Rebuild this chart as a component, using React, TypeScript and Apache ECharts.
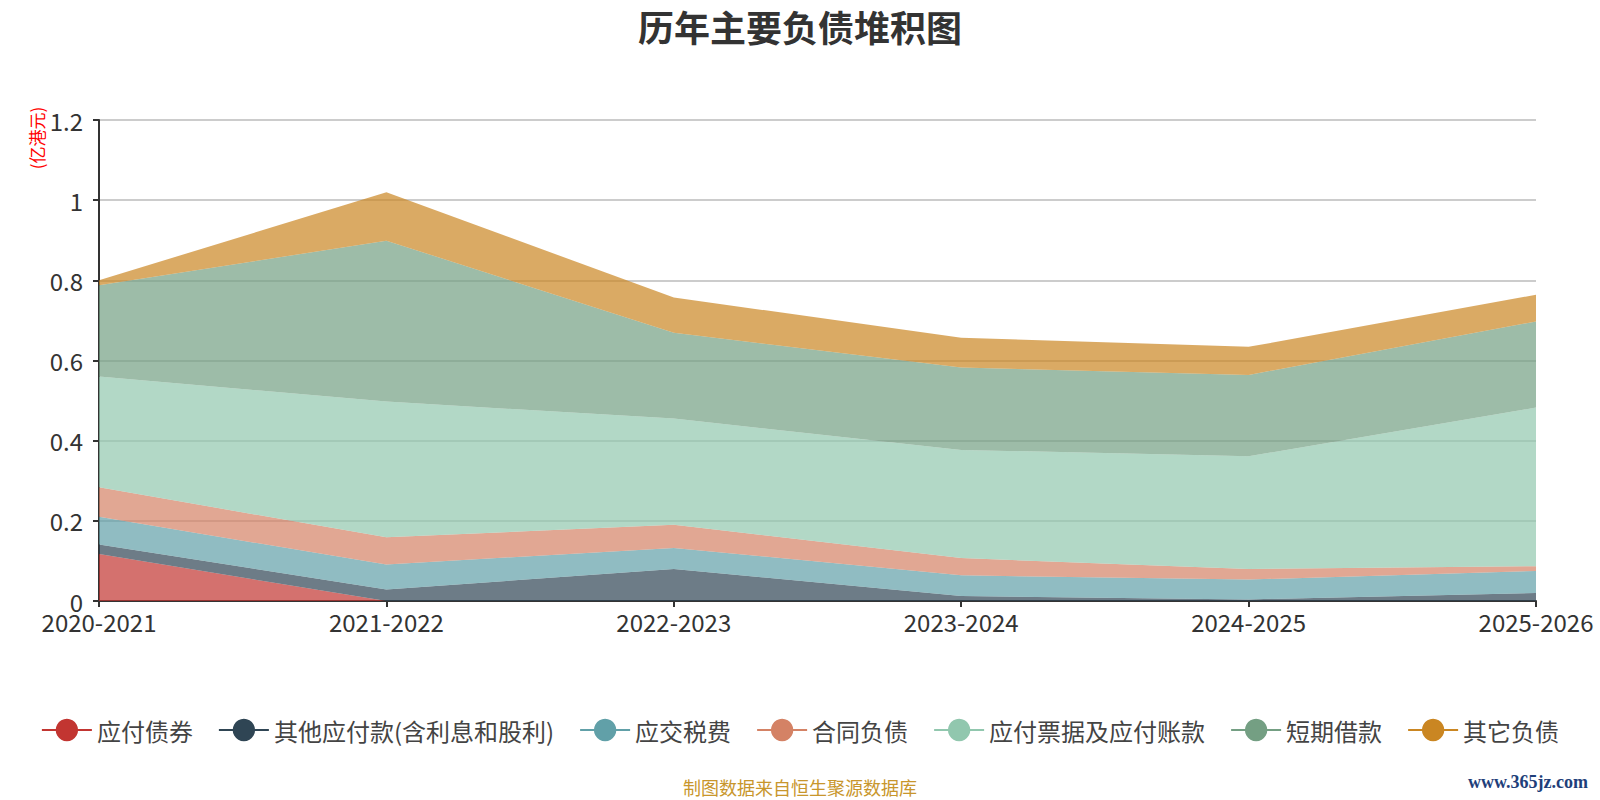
import { useEffect, useRef } from 'react'
import * as echarts from 'echarts'

const years = ['2020-2021', '2021-2022', '2022-2023', '2023-2024', '2024-2025', '2025-2026']

const bonds = [0.117, 0, 0, 0, 0, 0]
const otherPayables = [0.024, 0.0285, 0.08, 0.0125, 0.004, 0.02]
const taxes = [0.069, 0.0625, 0.0525, 0.0515, 0.0495, 0.055]
const contract = [0.0735, 0.068, 0.0575, 0.043, 0.0265, 0.0118]
const notesPayable = [0.2765, 0.3385, 0.265, 0.27, 0.281, 0.3957]
const shortLoans = [0.2275, 0.4015, 0.214, 0.2055, 0.203, 0.215]
const otherLiab = [0.0125, 0.121, 0.088, 0.0745, 0.07, 0.0665]

const seriesNames = ['应付债券', '其他应付款(含利息和股利)', '应交税费', '合同负债', '应付票据及应付账款', '短期借款', '其它负债']
const seriesData = [bonds, otherPayables, taxes, contract, notesPayable, shortLoans, otherLiab]
const colors = ['#c23531', '#2f4554', '#61a0a8', '#d48265', '#91c7ae', '#749f83', '#ca8622']

const FONT = '"Noto Sans CJK SC", "Noto Sans", sans-serif'

export default function App() {
  const ref = useRef<HTMLDivElement>(null)

  useEffect(() => {
    document.body.style.margin = '0'
    if (!ref.current) return
    const chart = echarts.init(ref.current, null, { renderer: 'svg' })

    const option: echarts.EChartsOption = {
      animation: false,
      color: colors,
      textStyle: { fontFamily: FONT },
      title: {
        text: '历年主要负债堆积图',
        left: 'center',
        top: 3,
        textStyle: { fontSize: 36, fontWeight: 'bold', color: '#333', fontFamily: FONT },
      },
      grid: { left: 99, right: 64, top: 120, bottom: 199 },
      legend: {
        top: 713,
        left: 'center',
        itemWidth: 50,
        itemHeight: 28,
        itemGap: 25,
        lineStyle: { width: 2 },
        textStyle: { fontSize: 24, color: '#444', fontFamily: FONT },
        data: seriesNames,
      },
      xAxis: {
        type: 'category',
        boundaryGap: false,
        data: years,
        axisLine: { lineStyle: { color: '#333', width: 2 } },
        axisTick: { alignWithLabel: true, length: 6, lineStyle: { width: 2 } },
        axisLabel: { fontSize: 24, color: '#333', margin: 8 },
      },
      yAxis: {
        type: 'value',
        min: 0,
        max: 1.2,
        interval: 0.2,
        axisLine: { show: true, lineStyle: { color: '#333', width: 2 } },
        axisTick: { show: true, length: 6, lineStyle: { width: 2 } },
        axisLabel: { fontSize: 24, color: '#333', margin: 16 },
        splitLine: { lineStyle: { color: '#ccc', width: 2 } },
      },
      graphic: [
        {
          type: 'text',
          x: 36,
          y: 138,
          rotation: Math.PI / 2,
          style: {
            text: '(亿港元)',
            fill: '#ff0000',
            fontSize: 17,
            fontFamily: FONT,
            align: 'center',
            verticalAlign: 'middle',
          },
        },
        {
          type: 'text',
          left: 'center',
          top: 778,
          style: {
            text: '制图数据来自恒生聚源数据库',
            fill: '#c8962c',
            fontSize: 18,
            fontFamily: FONT,
          },
        },
        {
          type: 'text',
          right: 12,
          top: 773,
          style: {
            text: 'www.365jz.com',
            fill: '#1f3f7a',
            fontSize: 18,
            fontWeight: 'bold',
            fontFamily: '"Liberation Serif", serif',
          },
        },
      ],
      series: seriesNames.map((name, i) => ({
        name,
        type: 'line',
        stack: 'total',
        data: seriesData[i],
        symbol: 'circle',
        showSymbol: false,
        lineStyle: { width: 0 },
        areaStyle: { opacity: 0.7 },
      })),
    }

    chart.setOption(option)
    return () => chart.dispose()
  }, [])

  return <div ref={ref} style={{ width: 1600, height: 800 }} />
}
